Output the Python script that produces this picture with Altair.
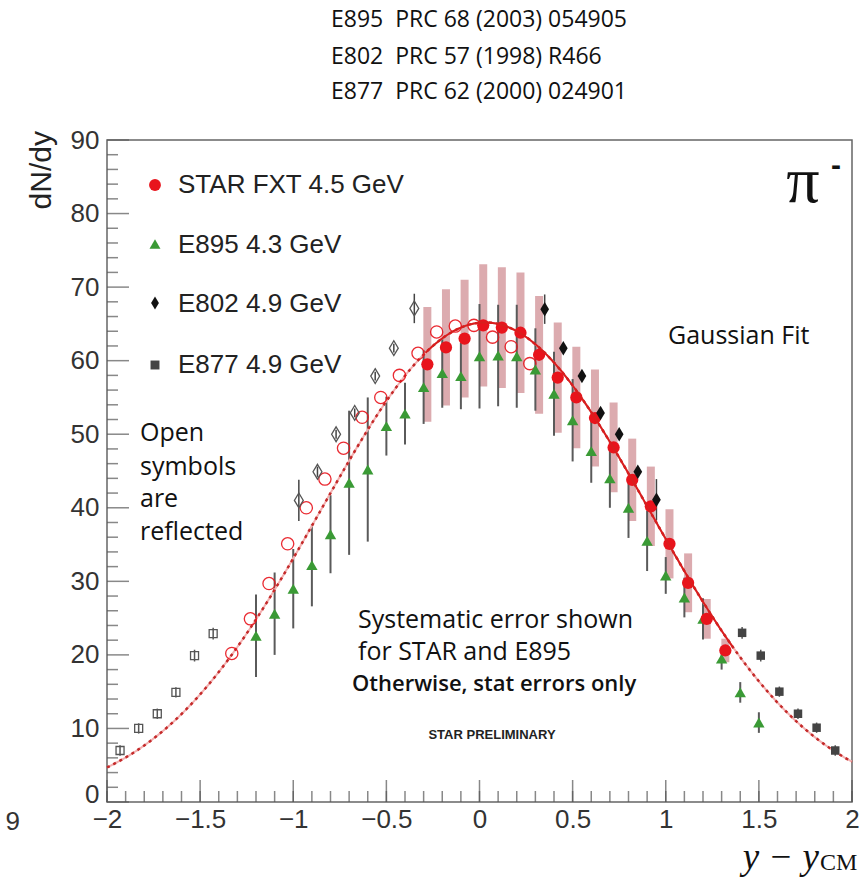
import altair as alt
import numpy as np
import pandas as pd

# ---- STAR FXT 4.5 GeV (measured, y - y_CM > -0.3) ----
STAR_RAP = [-0.28, -0.18, -0.08, 0.02, 0.12, 0.22, 0.32, 0.42, 0.52, 0.62,
            0.72, 0.82, 0.92, 1.02, 1.12, 1.22, 1.32]
STAR_DNDY = [59.5, 61.8, 63.0, 64.8, 64.5, 63.8, 60.8, 57.7, 55.0, 52.2,
             48.2, 43.8, 40.2, 35.1, 29.8, 24.9, 20.6]
STAR_SYS = [7.8, 7.9, 8.0, 8.3, 8.2, 8.2, 8.0, 7.5, 6.9, 6.6,
            6.1, 5.6, 5.4, 4.7, 4.0, 2.7, 1.6]

# STAR points reflected about mid-rapidity (open circles)
STAR_REFL_RAP = [0.27, 0.17, 0.07, -0.03, -0.13, -0.23, -0.33, -0.43, -0.53,
                 -0.63, -0.73, -0.83, -0.93, -1.03, -1.13, -1.23, -1.33]
STAR_REFL_DNDY = [59.6, 61.9, 63.2, 64.8, 64.7, 63.9, 61.0, 58.0, 55.0,
                  52.3, 48.1, 43.9, 40.0, 35.1, 29.7, 24.9, 20.2]

# ---- E895 4.3 GeV ----
E895_RAP = [-1.2, -1.1, -1.0, -0.9, -0.8, -0.7, -0.6, -0.5, -0.4, -0.3,
            -0.2, -0.1, 0.0, 0.1, 0.2, 0.3, 0.4, 0.5, 0.6, 0.7,
            0.8, 0.9, 1.0, 1.1, 1.2, 1.3, 1.4, 1.5]
E895_DNDY = [22.6, 25.6, 29.0, 32.2, 36.4, 43.4, 45.2, 51.1, 52.8, 56.4,
             58.3, 57.9, 60.6, 60.7, 60.6, 58.8, 55.5, 51.9, 47.7, 44.0,
             40.0, 35.5, 30.8, 27.8, 24.9, 19.5, 14.9, 10.8]
E895_ERR = [5.6, 5.6, 5.4, 5.6, 5.3, 9.8, 9.8, 4.0, 4.2, 5.0,
            4.7, 4.5, 7.1, 6.9, 7.0, 5.6, 5.7, 5.6, 4.3, 4.0,
            4.1, 4.1, 2.5, 2.7, 2.8, 1.5, 1.4, 1.4]

# ---- E802 4.9 GeV ----
E802_RAP = [0.35, 0.45, 0.55, 0.65, 0.75, 0.85, 0.95]
E802_DNDY = [67.0, 61.7, 57.9, 52.9, 50.0, 44.9, 41.1]
E802_ERR = [2.0, 0.6, 0.6, 0.6, 0.6, 0.7, 2.8]
E802_REFL_RAP = [-0.35, -0.46, -0.56, -0.67, -0.77, -0.87, -0.97]
E802_REFL_DNDY = [67.1, 61.7, 57.9, 52.9, 50.0, 44.9, 41.0]

# ---- E877 4.9 GeV ----
E877_RAP = [1.41, 1.51, 1.61, 1.71, 1.81, 1.91]
E877_DNDY = [23.0, 19.9, 15.0, 12.0, 10.1, 7.0]
E877_ERR = [0.8, 0.8, 0.7, 0.7, 0.7, 0.7]
E877_REFL_RAP = [-1.43, -1.53, -1.63, -1.73, -1.83, -1.93]
E877_REFL_DNDY = [22.9, 19.9, 14.9, 12.0, 10.0, 7.0]

# Gaussian fit to the STAR points
FIT_AMP, FIT_MEAN, FIT_SIGMA = 65.2, 0.03, 0.885
FIT_SOLID_RANGE = (-0.3, 1.36)

# Axis tick values
X_LABELS = [-2, -1.5, -1, -0.5, 0, 0.5, 1, 1.5, 2]
X_MINOR = [round(-2 + 0.1 * i, 1) for i in range(41)]
Y_LABELS = [0, 10, 20, 30, 40, 50, 60, 70, 80, 90]
Y_MINOR = [v for v in range(0, 91, 2) if v % 10]

# Colours and fonts
RED = "#e8141c"
GREEN = "#3a9a35"
PINK = "#d8a2a6"
BAR_GREY = "#5a5a5a"
SANS = "Liberation Sans"
CALIBRI = "Open Sans"
NB = "\u00a0"

W, H = 745, 662
xs = alt.Scale(domain=[-2, 2], nice=False, zero=False)
ys = alt.Scale(domain=[0, 90], nice=False, zero=False)

XAX = alt.Axis(values=X_LABELS, format="~g", title=None, ticks=False, domain=False,
               grid=False, labelFont=SANS, labelFontSize=26, labelColor="#333",
               labelPadding=4, labelFlush=False, labelOverlap=False)
# the "0" label sits a little above the corner, clear of the x labels
YAX = alt.Axis(values=Y_LABELS, title=None, ticks=False, domain=False, grid=False,
               labelFont=SANS, labelFontSize=26, labelColor="#333", labelPadding=8,
               labelOverlap=False, labelBound=False,
               labelBaseline=alt.condition("datum.value == 0", alt.value("alphabetic"),
                                           alt.value("middle")))


def xq(field="x"):
    return alt.X(f"{field}:Q", scale=xs, axis=XAX)


def yq(field="y"):
    return alt.Y(f"{field}:Q", scale=ys, axis=YAX)


def frame(x, y, err=None):
    df = pd.DataFrame({"x": x, "y": y})
    if err is not None:
        df["lo"] = df["y"] - pd.Series(err)
        df["hi"] = df["y"] + pd.Series(err)
    return df


star = frame(STAR_RAP, STAR_DNDY, STAR_SYS)
star_refl = frame(STAR_REFL_RAP, STAR_REFL_DNDY)
e895 = frame(E895_RAP, E895_DNDY, E895_ERR)
e802 = frame(E802_RAP, E802_DNDY, E802_ERR)
e802_refl = frame(E802_REFL_RAP, E802_REFL_DNDY, E802_ERR)
e877 = frame(E877_RAP, E877_DNDY, E877_ERR)
e877_refl = frame(E877_REFL_RAP, E877_REFL_DNDY, E877_ERR)

xfit = np.linspace(-2, 2, 401)
fit = pd.DataFrame({"x": xfit,
                    "y": FIT_AMP * np.exp(-0.5 * ((xfit - FIT_MEAN) / FIT_SIGMA) ** 2)})
fit_solid = fit[(fit.x >= FIT_SOLID_RANGE[0]) & (fit.x <= FIT_SOLID_RANGE[1])]

DIAMOND = "M0,-1L0.6,0L0,1L-0.6,0Z"


# Inward-pointing ticks along the left and bottom frame
def yticks(vals, size):
    return alt.Chart(pd.DataFrame({"y": vals})).mark_tick(
        orient="horizontal", size=size, thickness=1.5, color="#555", xOffset=size / 2
    ).encode(x=alt.datum(-2, scale=xs, axis=XAX), y=yq())


def xticks(vals, size):
    return alt.Chart(pd.DataFrame({"x": vals})).mark_tick(
        orient="vertical", size=size, thickness=1.5, color="#555", yOffset=-size / 2
    ).encode(y=alt.datum(0, scale=ys, axis=YAX), x=xq())


ticks = [yticks(Y_LABELS, 22), yticks(Y_MINOR, 11), xticks(X_LABELS, 22), xticks(X_MINOR, 11)]

sys_bars = alt.Chart(star).mark_rule(color=PINK, strokeWidth=8, opacity=0.9).encode(
    x=xq(), y=yq("lo"), y2="hi")
e895_bars = alt.Chart(e895).mark_rule(color=BAR_GREY, strokeWidth=2).encode(
    x=xq(), y=yq("lo"), y2="hi")
e802_bars = alt.Chart(pd.concat([e802, e802_refl])).mark_rule(color="#444", strokeWidth=1.5).encode(
    x=xq(), y=yq("lo"), y2="hi")
e877_bars = alt.Chart(pd.concat([e877, e877_refl])).mark_rule(color="#555", strokeWidth=1.5).encode(
    x=xq(), y=yq("lo"), y2="hi")

fit_halo = alt.Chart(fit).mark_line(color="#f3b0b0", strokeWidth=2).encode(x=xq(), y=yq())
fit_dash = alt.Chart(fit).mark_line(color="#c42a2a", strokeWidth=2.5, strokeDash=[3, 4]).encode(
    x=xq(), y=yq())
fit_line = alt.Chart(fit_solid).mark_line(color="#d81e1e", strokeWidth=2).encode(x=xq(), y=yq())

star_open = alt.Chart(star_refl).mark_point(
    shape="circle", size=150, filled=False, color=RED, strokeWidth=1.3, opacity=0.9
).encode(x=xq(), y=yq())
e802_open = alt.Chart(e802_refl).mark_point(
    shape=DIAMOND, size=220, filled=False, color="#555", strokeWidth=1.3, opacity=1
).encode(x=xq(), y=yq())
e877_open = alt.Chart(e877_refl).mark_point(
    shape="square", size=64, filled=False, color="#555", strokeWidth=1.3, opacity=1
).encode(x=xq(), y=yq())

e895_pts = alt.Chart(e895).mark_point(
    shape="triangle-up", size=130, filled=True, color=GREEN, opacity=1
).encode(x=xq(), y=yq())
star_pts = alt.Chart(star).mark_point(
    shape="circle", size=150, filled=True, color=RED, opacity=1
).encode(x=xq(), y=yq())
e802_pts = alt.Chart(e802).mark_point(
    shape=DIAMOND, size=210, filled=True, color="#111", opacity=1
).encode(x=xq(), y=yq())
e877_pts = alt.Chart(e877).mark_point(
    shape="square", size=72, filled=True, color="#444", opacity=1
).encode(x=xq(), y=yq())


def label(text, x, y, size, font=CALIBRI, align="left", weight="normal", color="#111",
          style="normal", angle=0, baseline="middle"):
    return alt.Chart(pd.DataFrame({"t": [text]})).mark_text(
        align=align, baseline=baseline, font=font, fontSize=size, fontWeight=weight,
        fontStyle=style, color=color, angle=angle
    ).encode(x=alt.value(x), y=alt.value(y), text="t:N")


def legend_symbol(shape, size, color, x, y):
    return alt.Chart(pd.DataFrame({"t": [0]})).mark_point(
        shape=shape, size=size, filled=True, color=color, opacity=1
    ).encode(x=alt.value(x), y=alt.value(y))


legend = [
    legend_symbol("circle", 140, RED, 48, 45),
    legend_symbol("triangle-up", 120, GREEN, 48, 104),
    legend_symbol(DIAMOND, 170, "#111", 48, 163),
    legend_symbol("square", 80, "#444", 48, 225),
    label("STAR FXT 4.5 GeV", 71, 45, 26, font=SANS, color="#222"),
    label("E895 4.3 GeV", 71, 105, 26, font=SANS, color="#222"),
    label("E802 4.9 GeV", 71, 164, 26, font=SANS, color="#222"),
    label("E877 4.9 GeV", 71, 225, 26, font=SANS, color="#222"),
]

texts = [
    label(f"E895{NB} PRC 68 (2003) 054905", 224, -120, 23),
    label(f"E802{NB} PRC 57 (1998) R466", 224, -83, 23),
    label(f"E877{NB} PRC 62 (2000) 024901", 224, -48, 23),
    label("dN/dy", -65, -9, 30, font=SANS, align="right", angle=270, color="#222"),
    label("π", 696, 62, 66, font="Liberation Serif", align="center", baseline="alphabetic"),
    label("-", 729, 26, 30, font=SANS, align="center", weight="bold"),
    label("Gaussian Fit", 561, 196, 25),
    label("Open", 33, 293, 25),
    label("symbols", 33, 327, 25),
    label("are", 33, 359, 25),
    label("reflected", 33, 392, 25),
    label("Systematic error shown", 251, 480, 25),
    label("for STAR and E895", 251, 512, 25),
    label("Otherwise, stat errors only", 245, 544, 22, weight=600),
    label("STAR PRELIMINARY", 385, 595, 13, font=SANS, align="center", weight="bold", color="#222"),
    label(f"y{NB}−{NB}y", 712, 729, 37, font="Liberation Serif", align="right", style="italic",
          baseline="alphabetic", color="#111"),
    label("CM", 713, 730, 24, font="Liberation Serif", align="left",
          baseline="alphabetic", color="#111"),
    label("9", -87, 682, 26, font=SANS, align="right", color="#333"),
]

chart = alt.layer(
    *ticks,
    sys_bars, e895_bars, e802_bars, e877_bars,
    fit_halo, fit_dash,
    star_open, e802_open, e877_open,
    e895_pts, star_pts, fit_line, e802_pts, e877_pts,
    *legend, *texts,
).properties(
    width=W, height=H,
    padding={"left": 107, "top": 140, "right": 13, "bottom": 76},
    autosize=alt.AutoSizeParams(type="none"),
    background="white",
).configure_view(stroke="#666", strokeWidth=1.5)

chart.save("out.html", embed_options={"renderer": "svg", "actions": False})
